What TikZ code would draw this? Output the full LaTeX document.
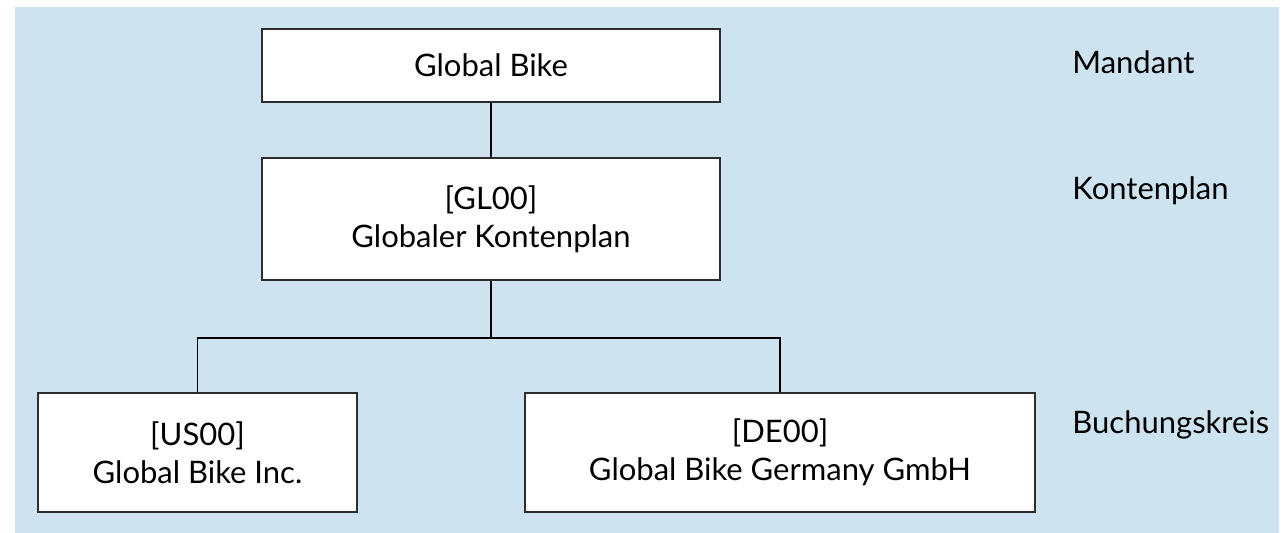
\documentclass[tikz,border=0pt]{standalone}
\usepackage{fontspec}
\setmainfont{Lato}
\usepackage{tikz}
\usetikzlibrary{positioning}
\definecolor{paleblue}{RGB}{206,227,240}
\definecolor{boxline}{RGB}{45,45,45}

\begin{document}
\begin{tikzpicture}[x=0.5pt, y=-0.5pt, font=\fontsize{15.5}{19}\selectfont,
    b/.style={draw=boxline, line width=0.8pt, fill=white, align=center, inner sep=0pt},
    lvl/.style={anchor=west, inner sep=0pt},
    conn/.style={line width=0.6pt, draw=black}]
    \useasboundingbox (0,0) rectangle (1284,533);
    \fill[paleblue] (15,7) rectangle (1279,533);
    \node[b, minimum width=229pt, minimum height=36.5pt] (mandant) at (491,65.5) {Global Bike};
    \node[b, minimum width=229pt, minimum height=61pt] (konto) at (491,219) {[GL00]\\Globaler Kontenplan};
    \node[b, minimum width=159.5pt, minimum height=59.5pt] (us) at (197.5,452.5) {[US00]\\Global Bike Inc.};
    \node[b, minimum width=255pt, minimum height=59.5pt] (de) at (780,452.5) {[DE00]\\Global Bike Germany GmbH};
    \coordinate (split) at (491,338);
    \draw[conn] (mandant) -- (konto); \draw[conn] (konto) -- (split);
    \draw[conn] (us) |- (split) -| (de);
    \node[lvl] (lmandant) at (1072,62) {Mandant};
    \node[lvl] (lkonto) at (1072,191) {Kontenplan};
    \node[lvl] (lbuchung) at (1072,425) {Buchungskreis};
  \end{tikzpicture}
\end{document}
